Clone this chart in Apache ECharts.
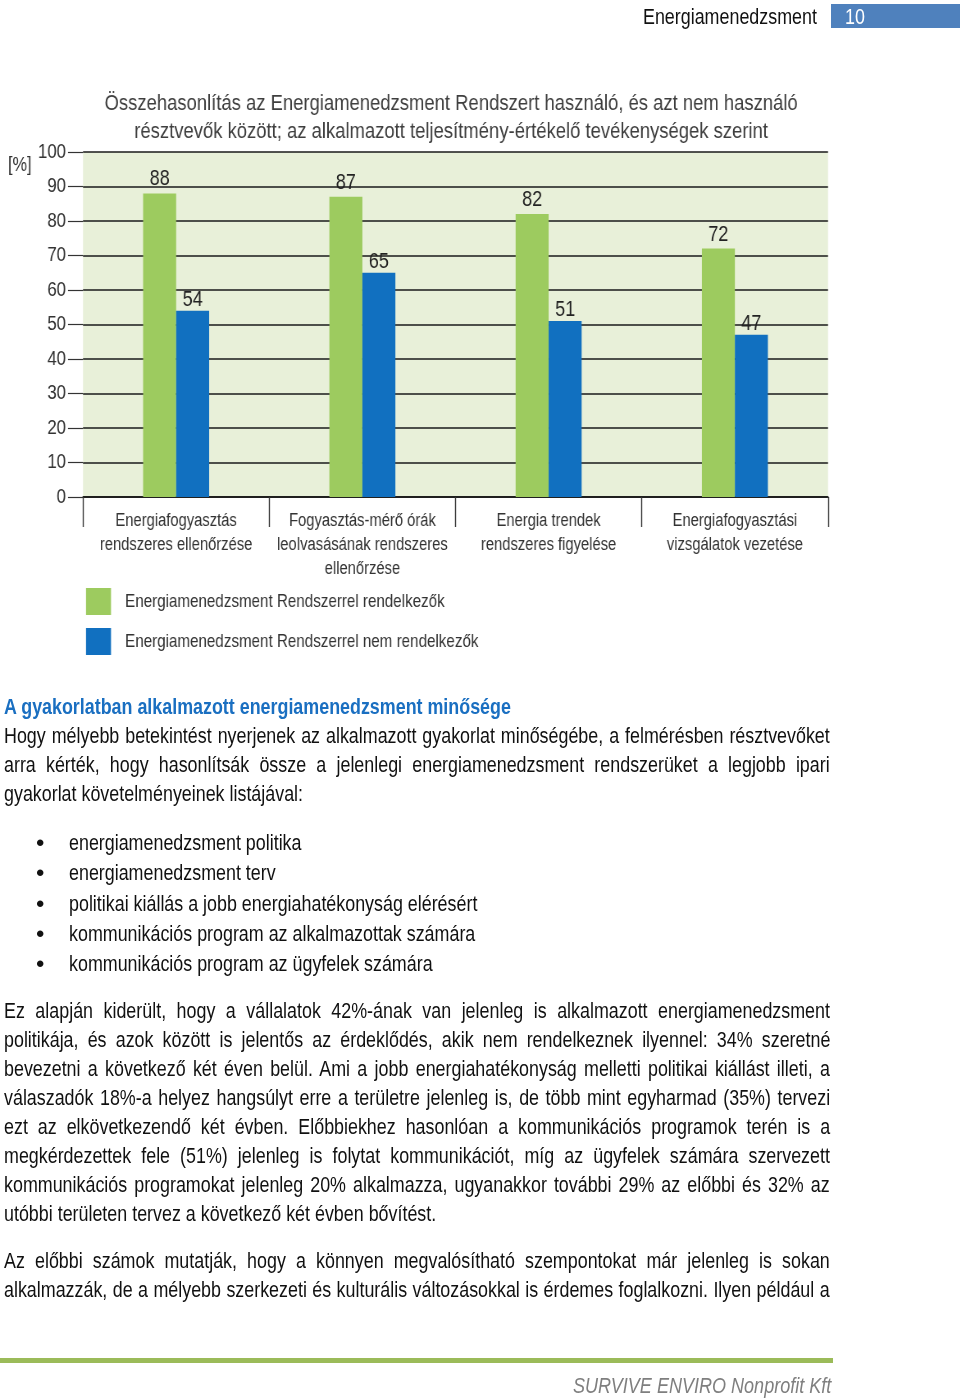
<!DOCTYPE html>
<html>
<head>
<meta charset="utf-8">
<script src="https://cdn.jsdelivr.net/npm/echarts@6/dist/echarts.min.js"></script>
<style>
  html,body{margin:0;padding:0;background:#fff;}
  #page{position:relative;width:960px;height:1398px;overflow:hidden;}
  #chart{position:absolute;left:0;top:0;width:1170.73px;height:1398px;transform:scaleX(0.82);transform-origin:0 0;}
  .ln{position:absolute;left:4px;height:29px;line-height:29px;
      font-family:"Liberation Sans",Arial,sans-serif;font-size:21.8px;color:#111;
      transform:scaleX(0.82);transform-origin:0 0;white-space:nowrap;}
  .bul{position:absolute;left:36px;font-size:24px;line-height:29px;height:29px;color:#111;font-family:"Liberation Sans",Arial,sans-serif;}
</style>
</head>
<body>
<div id="page">
  <div id="chart"></div>
  <div id="texts"></div>
</div>
<script>
// ---- data ----
const chartTitle = 'Összehasonlítás az Energiamenedzsment Rendszert használó, és azt nem használó\nrésztvevők között; az alkalmazott teljesítmény-értékelő tevékenységek szerint';
const categories = [
  'Energiafogyasztás\nrendszeres ellenőrzése',
  'Fogyasztás-mérő órák\nleolvasásának rendszeres\nellenőrzése',
  'Energia trendek\nrendszeres figyelése',
  'Energiafogyasztási\nvizsgálatok vezetése'
];
const seriesNames = ['Energiamenedzsment Rendszerrel rendelkezők', 'Energiamenedzsment Rendszerrel nem rendelkezők'];
const withEMS = [88, 87, 82, 72];
const withoutEMS = [54, 65, 51, 47];
const yUnit = '[%]';

const headerText = 'Energiamenedzsment';
const pageNumber = '10';
const heading = 'A gyakorlatban alkalmazott energiamenedzsment minősége';
const para1 = [
  'Hogy mélyebb betekintést nyerjenek az alkalmazott gyakorlat minőségébe, a felmérésben résztvevőket',
  'arra kérték, hogy hasonlítsák össze a jelenlegi energiamenedzsment rendszerüket a legjobb ipari',
  'gyakorlat követelményeinek listájával:'
];
const bullets = [
  'energiamenedzsment politika',
  'energiamenedzsment terv',
  'politikai kiállás a jobb energiahatékonyság elérésért',
  'kommunikációs program az alkalmazottak számára',
  'kommunikációs program az ügyfelek számára'
];
const para2 = [
  'Ez alapján kiderült, hogy a vállalatok 42%-ának van jelenleg is alkalmazott energiamenedzsment',
  'politikája, és azok között is jelentős az érdeklődés, akik nem rendelkeznek ilyennel: 34% szeretné',
  'bevezetni a következő két éven belül. Ami a jobb energiahatékonyság melletti politikai kiállást illeti, a',
  'válaszadók 18%-a helyez hangsúlyt erre a területre jelenleg is, de több mint egyharmad (35%) tervezi',
  'ezt az elkövetkezendő két évben. Előbbiekhez hasonlóan a kommunikációs programok terén is a',
  'megkérdezettek fele (51%) jelenleg is folytat kommunikációt, míg az ügyfelek számára szervezett',
  'kommunikációs programokat jelenleg 20% alkalmazza, ugyanakkor további 29% az előbbi és 32% az',
  'utóbbi területen tervez a következő két évben bővítést.'
];
const para3 = [
  'Az előbbi számok mutatják, hogy a könnyen megvalósítható szempontokat már jelenleg is sokan',
  'alkalmazzák, de a mélyebb szerkezeti és kulturális változásokkal is érdemes foglalkozni. Ilyen például a'
];
const footerText = 'SURVIVE ENVIRO Nonprofit Kft';

// ---- HTML texts (narrow look: Liberation Sans compressed horizontally) ----
const S = 0.82;
const T = document.getElementById('texts');
function addLine(txt, cy, mode, extra){
  const d = document.createElement('div');
  d.className = 'ln';
  d.style.top = (cy - 14.5) + 'px';
  if (extra) Object.assign(d.style, extra);
  const sp = document.createElement('span');
  sp.textContent = txt;
  d.appendChild(sp);
  T.appendChild(d);
  if (mode === 'j') {
    const target = 826 / S;
    const w = sp.offsetWidth;
    const n = (txt.match(/ /g) || []).length;
    if (n > 0) sp.style.wordSpacing = ((target - w) / n) + 'px';
  } else if (mode === 'r') {
    const right = parseFloat(extra.right);
    const w = sp.offsetWidth * S;
    d.style.left = (right - w) + 'px';
  }
  return d;
}
// header
addLine(headerText, 16, 'r', {right:'817', fontSize:'21.8px', color:'#111'});
const box = document.createElement('div');
Object.assign(box.style,{position:'absolute',left:'831px',top:'4px',width:'129px',height:'24px',background:'#4f81bd'});
T.appendChild(box);
addLine(pageNumber, 16, 'l', {left:'845px', color:'#fff', fontSize:'21.8px'});
// heading
addLine(heading, 706, 'l', {fontWeight:'bold', color:'#1a6fc1', fontSize:'21.8px'});
const p1y = [735, 764, 793];
para1.forEach((s,i)=>addLine(s, p1y[i], i<para1.length-1?'j':'l'));
const by = [842, 872, 903, 933, 963];
bullets.forEach((s,i)=>{
  addLine(s, by[i], 'l', {left:'69px'});
  const b = document.createElement('div'); b.className='bul'; b.style.top=(by[i]-14.5)+'px'; b.textContent='•'; T.appendChild(b);
});
para2.forEach((s,i)=>addLine(s, 1010 + i*29, i<para2.length-1?'j':'l'));
para3.forEach((s,i)=>addLine(s, 1260 + i*29, 'j'));
// footer
const fl = document.createElement('div');
Object.assign(fl.style,{position:'absolute',left:'0px',top:'1358px',width:'833px',height:'5px',background:'#9bbb59'});
T.appendChild(fl);
addLine(footerText, 1385, 'r', {right:'831', fontStyle:'italic', color:'#7f7f7f', fontSize:'22px'});

// ---- chart (container compressed by S; x-coordinates given in unscaled space) ----
const X = v => v / S;
const F = '"Liberation Sans", Arial, sans-serif';
const chart = echarts.init(document.getElementById('chart'), null, {renderer:'canvas'});
chart.setOption({
  animation:false,
  backgroundColor:'transparent',
  title:{
    text: chartTitle, left: X(447), top: 85, textAlign:'center',
    textStyle:{fontFamily:F, fontSize:22.5, lineHeight:28, fontWeight:'normal', color:'#3f3f3f'}
  },
  graphic:[{type:'text', left:X(8), top:155, style:{text:yUnit, font:'20px '+F, fill:'#333'}}],
  legend:{
    data:seriesNames, orient:'vertical', left:X(86), top:588, icon:'rect', padding:0,
    itemWidth:X(25), itemHeight:27, itemGap:13,
    textStyle:{fontFamily:F, fontSize:18.5, color:'#333', padding:[2,0,0,X(10)]}
  },
  grid:{left:X(83), top:152, width:X(745), height:345, show:true, backgroundColor:'#e8f0d9', borderWidth:0},
  xAxis:{
    type:'category', data:categories,
    axisLine:{show:true, lineStyle:{color:'#111', width:1.6}},
    axisTick:{show:true, length:30, lineStyle:{color:'#333', width:1.4}},
    axisLabel:{interval:0, margin:12, fontFamily:F, fontSize:18, lineHeight:24, color:'#333'}
  },
  yAxis:{
    type:'value', min:0, max:100, interval:10,
    axisLine:{show:false},
    axisTick:{show:true, length:X(15), lineStyle:{color:'#333', width:1.2}},
    splitLine:{show:true, lineStyle:{color:'#1a1a1a', width:1.6}},
    axisLabel:{margin:X(17), fontFamily:F, fontSize:20.5, color:'#333'}
  },
  series:[
    {name:seriesNames[0], type:'bar', data:withEMS, barWidth:X(33), barGap:'0%',
     itemStyle:{color:'#9dcb5f'},
     label:{show:true, position:'top', distance:3, fontFamily:F, fontSize:22, color:'#222'}},
    {name:seriesNames[1], type:'bar', data:withoutEMS, barWidth:X(33), barGap:'0%',
     itemStyle:{color:'#1170c0'},
     label:{show:true, position:'top', distance:0, fontFamily:F, fontSize:22, color:'#222'}}
  ]
});
</script>
</body>
</html>
